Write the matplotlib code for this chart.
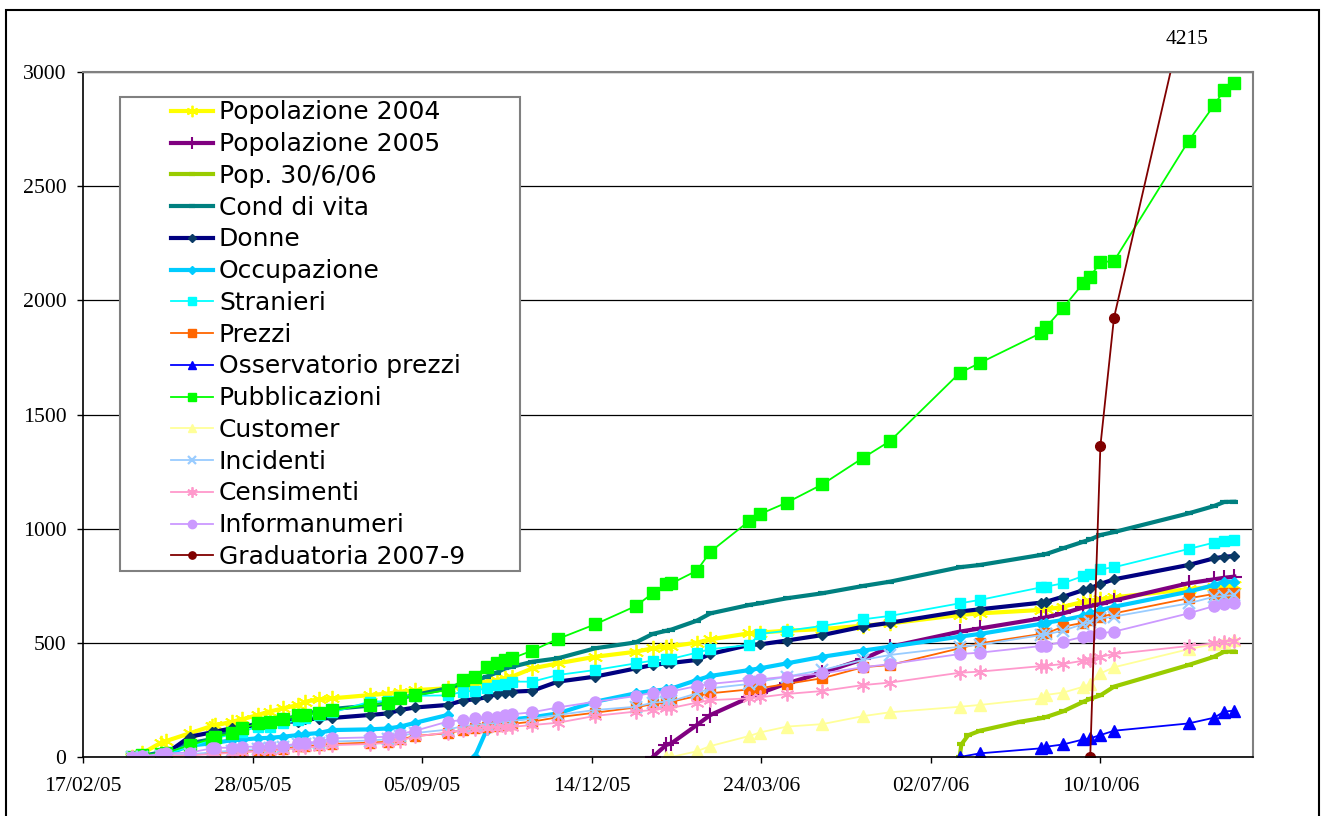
import numpy as np
import matplotlib.pyplot as plt
import matplotlib.dates as mdates
from matplotlib.patches import Rectangle

nan = np.nan
inizio = np.datetime64('2005-02-17')

# giorni dal 17/02/05 delle date di aggiornamento
giorni = [29, 35, 46, 49, 63, 76, 78, 88, 94, 103, 110, 118, 127, 131, 139, 147,
          169, 180, 187, 196, 215, 224, 231, 238, 244, 249, 253, 265, 280, 302,
          326, 336, 344, 347, 362, 370, 393, 399, 415, 436, 460, 476, 517, 529,
          565, 568, 578, 590, 594, 600, 608, 652, 667, 673, 679]

pop2004 = [0, 16, 63, 70, 104, 136, 138, 155, 165, 184, 199, 213, 228, 242, 253, 257,
           271, 278, 286, 293, 301, 310, 318, 330, 338, 345, 352, 388, 410, 439,
           461, 476, 483, 485, 501, 515, 542, 545, 553, 560, 575, 585, 622, 629,
           644, 646, 658, 680, 685, 691, 699, 735, 745, 750, 752]

pop2005 = [nan] * 31 + [0, 53, 60, 140, 184, 261, 279, 322, 369, 428, 483, 549, 563,
                        607, 612, 629, 655, 661, 670, 685, 761, 778, 785, 790]

giorni_pop06 = [517, 518, 522, 529, 553, 565, 568, 578, 590, 594, 600, 608, 652, 667, 673, 679]
pop06 = [0, 55, 95, 115, 155, 170, 175, 200, 242, 255, 270, 308, 403, 439, 461, 462]

cond_vita = [0, 5, 20, 25, 60, 78, 85, 118, 130, 147, 155, 165, 180, 190, 200, 210,
             225, 235, 257, 272, 301, 322, 335, 352, 370, 388, 395, 417, 432, 476,
             502, 539, 553, 558, 597, 629, 666, 673, 695, 717, 749, 768, 831, 841,
             885, 889, 914, 943, 953, 972, 985, 1067, 1099, 1117, 1118]

donne = [0, 0, 10, 15, 89, 108, 111, 126, 133, 140, 148, 155, 155, 165, 168, 171,
         184, 191, 206, 217, 228, 247, 253, 261, 276, 282, 286, 290, 330, 352,
         388, 403, 410, 412, 425, 451, 491, 493, 510, 534, 571, 588, 637, 647,
         676, 680, 702, 731, 739, 758, 778, 841, 870, 877, 880]

occupazione = [0, 2, 8, 10, 50, 60, 62, 74, 76, 82, 84, 89, 96, 100, 105, 118,
               121, 125, 133, 150, 184, nan, 0, 118, 148, 162, 165, 174, 191, 242,
               279, 290, 296, 300, 337, 355, 381, 388, 410, 439, 466, 483, 527, 539,
               583, 588, 600, 618, 629, 644, 658, 724, 753, 768, 768]

stranieri = [0, 0, 10, 15, 45, 78, 82, 100, 111, 133, 133, 147, 162, 170, 184, 195,
             242, 245, 264, 268, 270, 286, 290, 301, 315, 318, 330, 330, 359, 381,
             410, 422, 428, 430, 457, 472, 491, 539, 553, 574, 603, 618, 673, 688,
             743, 746, 761, 793, 802, 822, 831, 911, 939, 948, 950]

prezzi = [0, 0, 4, 5, 9, 16, 18, 23, 25, 28, 30, 33, 48, 48, 52, 57,
          63, 67, 77, 92, 104, 118, 125, 130, 136, 140, 145, 155, 174, 194,
          217, 232, 238, 242, 267, 279, 296, 301, 320, 345, 393, 403, 476, 498,
          539, 541, 571, 588, 600, 612, 629, 695, 714, 717, 720]

oss_prezzi = [nan] * 42 + [0, 16, 38, 45, 55, 77, 82, 96, 115, 147, 172, 199, 203]

pubblicazioni = [0, 9, 15, 18, 52, 80, 89, 104, 125, 147, 155, 165, 184, 184, 194, 206,
                 228, 235, 257, 271, 293, 337, 352, 396, 410, 425, 432, 466, 517, 581,
                 661, 717, 756, 760, 816, 899, 1034, 1063, 1114, 1194, 1310, 1384, 1682, 1726,
                 1857, 1883, 1967, 2076, 2104, 2167, 2172, 2698, 2854, 2921, 2950]

customer = [nan] * 32 + [0, 0, 25, 48, 92, 107, 133, 144, 179, 196, 220, 228,
                         257, 272, 282, 308, 320, 366, 393, 472, 495, 505, 512]

incidenti = [0, 0, 5, 6, 12, 20, 22, 28, 30, 35, 38, 42, 55, 57, 62, 68,
             72, 78, 92, 105, 120, 135, 140, 145, 150, 155, 158, 168, 184, 206,
             220, 238, 242, 245, 279, 301, 320, 330, 352, 381, 425, 447, 483, 491,
             534, 537, 553, 583, 593, 607, 615, 673, 702, 705, 710]

censimenti = [0, 0, 3, 4, 8, 12, 14, 18, 20, 25, 27, 32, 40, 42, 45, 52,
              57, 62, 72, 90, 107, 118, 122, 126, 128, 130, 132, 140, 150, 180,
              199, 206, 213, 215, 238, 249, 257, 261, 276, 289, 315, 326, 369, 374,
              398, 400, 407, 422, 425, 439, 451, 486, 498, 505, 510]

informanumeri = [0, 4, 13, 16, 19, 38, 40, 41, 45, 45, 48, 48, 60, 62, 67, 82,
                 86, 89, 101, 115, 155, 162, 169, 177, 177, 184, 187, 196, 217, 242,
                 267, 282, 286, 287, 311, 320, 337, 340, 352, 366, 393, 407, 451, 457,
                 486, 488, 505, 527, 530, 542, 549, 629, 661, 670, 673]

giorni_grad = [594, 600, 608, 679]
graduatoria = [0, 1362, 1923, 4215]

asterisco = (6, 2, 0)

# nome, giorni, valori, colore linea, spessore, marker, dim. marker, colore marker, spessore marker
serie = [
    ('Popolazione 2004', giorni, pop2004, '#FFFF00', 3.0, asterisco, 11, '#FFFF00', 1.3),
    ('Popolazione 2005', giorni, pop2005, '#800080', 3.0, '+', 11, '#800080', 1.5),
    ('Pop. 30/6/06', giorni_pop06, pop06, '#99CC00', 3.0, '_', 6, '#99CC00', 3),
    ('Cond di vita', giorni, cond_vita, '#008080', 3.0, '_', 6, '#008080', 3),
    ('Donne', giorni, donne, '#000080', 3.0, 'D', 5.5, '#0A3A66', 1),
    ('Occupazione', giorni, occupazione, '#00CCFF', 3.0, 'D', 5.5, '#00CCFF', 1),
    ('Stranieri', giorni, stranieri, '#00FFFF', 1.3, 's', 7.5, '#00FFFF', 1),
    ('Prezzi', giorni, prezzi, '#FF6600', 1.3, 's', 7, '#FF6600', 1),
    ('Osservatorio prezzi', giorni, oss_prezzi, '#0000FF', 1.3, '^', 8, '#0000FF', 1),
    ('Pubblicazioni', giorni, pubblicazioni, '#00FF00', 1.3, 's', 8, '#00FF00', 1),
    ('Customer', giorni, customer, '#FFFF99', 1.3, '^', 8, '#FFFF99', 1),
    ('Incidenti', giorni, incidenti, '#99CCFF', 1.3, 'x', 8, '#99CCFF', 1.6),
    ('Censimenti', giorni, censimenti, '#FF99CC', 1.3, asterisco, 10, '#FF99CC', 1.3),
    ('Informanumeri', giorni, informanumeri, '#CC99FF', 1.3, 'o', 8, '#CC99FF', 1),
    ('Graduatoria 2007-9', giorni_grad, graduatoria, '#800000', 1.3, 'o', 7, '#800000', 1),
]

W, H = 1322, 816
fig = plt.figure(figsize=(W / 100, H / 100), dpi=100)
ax = fig.add_axes([83 / W, 59 / H, 1170 / W, 685 / H])

for nome, gg, vals, col, lw, mk, ms, mcol, mew in serie:
    x = inizio + np.array(gg, dtype='timedelta64[D]')
    ax.plot(x, vals, color=col, lw=lw, marker=mk, ms=ms, mfc=mcol, mec=mcol,
            mew=mew, label=nome, solid_joinstyle='round')

ax.set_xlim(inizio, inizio + np.timedelta64(690, 'D'))
ax.set_ylim(0, 3000)
ax.set_yticks(range(0, 3001, 500))
ax.set_xticks([inizio + np.timedelta64(100 * k, 'D') for k in range(7)])
ax.xaxis.set_major_formatter(mdates.DateFormatter('%d/%m/%y'))

ax.grid(axis='y', color='#000000', lw=0.9)
ax.set_axisbelow(True)
for s in ['left', 'bottom']:
    ax.spines[s].set_color('#000000')
    ax.spines[s].set_linewidth(1.2)
for s in ['top', 'right']:
    ax.spines[s].set_color('#808080')
    ax.spines[s].set_linewidth(1.5)

ax.tick_params(direction='out', length=4.5, width=1, colors='#000000')
ax.tick_params(axis='y', pad=7.5)
ax.tick_params(axis='x', pad=10)
for lab in ax.get_xticklabels() + ax.get_yticklabels():
    lab.set_family('Liberation Serif')
    lab.set_fontsize(15.7)

# riquadro della legenda
box = Rectangle((120 / W, 1 - 571 / H), 400 / W, 474 / H, transform=fig.transFigure,
                facecolor='white', edgecolor='#808080', lw=1.5, zorder=4)
ax.add_patch(box)
ax.legend(loc='upper left', bbox_to_anchor=(171 / W, 1 - 100.5 / H),
          bbox_transform=fig.transFigure, frameon=False, borderpad=0,
          borderaxespad=0, handlelength=1.68, handletextpad=0.24,
          labelspacing=0.31, markerscale=0.75,
          prop={'family': 'DejaVu Sans', 'size': 18})

fig.text(1187 / W, 1 - 40 / H, str(graduatoria[-1]), ha='center', va='center',
         family='Liberation Serif', fontsize=15.5)

fig.add_artist(Rectangle((6 / W, -0.1), 1313 / W, 1.1 - 10 / H,
                         transform=fig.transFigure, fill=False,
                         edgecolor='black', lw=1.5))

fig.savefig('out.png', dpi=100)
